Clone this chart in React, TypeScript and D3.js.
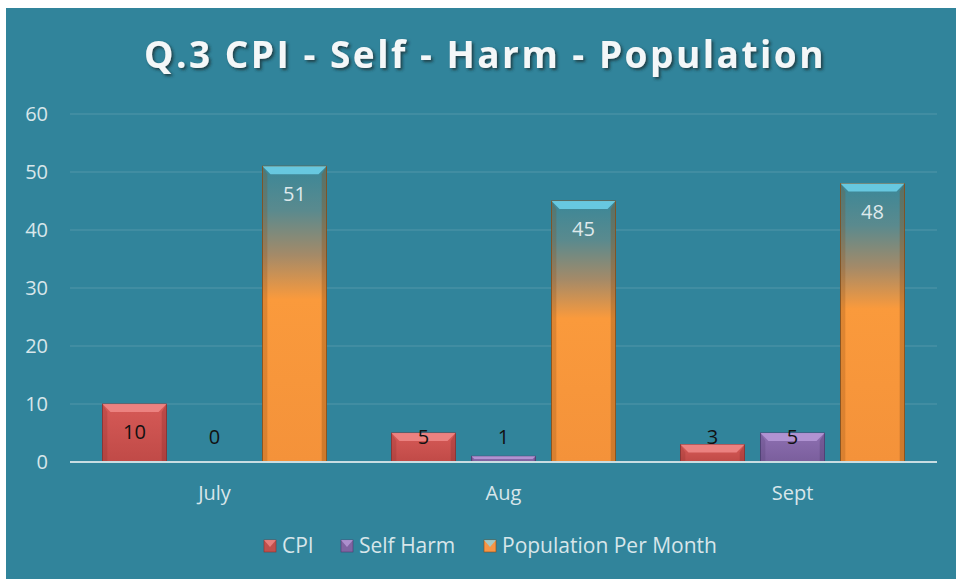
import React from 'react'
import * as d3 from 'd3'

const categories = ['July', 'Aug', 'Sept']
const seriesNames = ['CPI', 'Self Harm', 'Population Per Month']
const cpi = [10, 5, 3]
const selfHarm = [0, 1, 5]
const population = [51, 45, 48]
const yTicks = [0, 10, 20, 30, 40, 50, 60]

const W = 956
const H = 579
const font = '"Open Sans", Lato, sans-serif'

const colors: Record<string, { top: string; body: string; dark: string; mark: string }> = {
  'CPI': { top: '#f08a88', body: 'url(#gCpi)', dark: '#8c2f2d', mark: '#c0504d' },
  'Self Harm': { top: '#b79ad8', body: 'url(#gSh)', dark: '#4f3a6e', mark: '#8064a2' },
  'Population Per Month': { top: '#6fd3ec', body: 'url(#gPop)', dark: '#8a4c14', mark: '#f79646' },
}

const Bar = ({ x, y, w, h, name }: { x: number; y: number; w: number; h: number; name: string }) => {
  if (h <= 0) return null
  const c = colors[name]
  const b = Math.min(8, h / 2)
  return (
    <g>
      <rect x={x} y={y} width={w} height={h} fill={c.body} stroke={c.dark} strokeWidth={0.8} />
      <polygon points={`${x},${y} ${x + w},${y} ${x + w - b},${y + b} ${x + b},${y + b}`} fill={c.top} opacity={0.85} />
      <polygon points={`${x},${y} ${x + b * 0.6},${y + b} ${x + b * 0.6},${y + h} ${x},${y + h}`} fill={c.dark} opacity={0.25} />
      <polygon points={`${x + w},${y} ${x + w - b * 0.6},${y + b} ${x + w - b * 0.6},${y + h} ${x + w},${y + h}`} fill={c.dark} opacity={0.35} />
    </g>
  )
}

export default function App() {
  const x0 = d3.scaleBand<string>().domain(categories).range([70, 937])
  const x1 = d3.scaleBand<string>().domain(seriesNames).range([0, x0.bandwidth()]).paddingInner(0.2).paddingOuter(0.406)
  const y = d3.scaleLinear().domain([0, 60]).range([462, 114])
  const data = [cpi, selfHarm, population]

  return (
    <div style={{ position: 'absolute', left: 0, top: 0 }}>
      <svg width={W} height={H} style={{ display: 'block' }}>
        <defs>
          <linearGradient id="gCpi" x1="0" y1="0" x2="0" y2="1">
            <stop offset="0" stopColor="#d65a57" />
            <stop offset="1" stopColor="#c04a47" />
          </linearGradient>
          <linearGradient id="gSh" x1="0" y1="0" x2="0" y2="1">
            <stop offset="0" stopColor="#8e70b2" />
            <stop offset="1" stopColor="#7a5e9c" />
          </linearGradient>
          <linearGradient id="gPop" x1="0" y1="0" x2="0" y2="1">
            <stop offset="0" stopColor="#3a8798" />
            <stop offset="0.15" stopColor="#5a8a8e" />
            <stop offset="0.3" stopColor="#a48a68" />
            <stop offset="0.45" stopColor="#fa9a3c" />
            <stop offset="1" stopColor="#f4923a" />
          </linearGradient>
          <filter id="shadow" x="-10%" y="-30%" width="120%" height="160%">
            <feDropShadow dx="2" dy="2" stdDeviation="1.5" floodColor="#1a2e35" floodOpacity="0.8" />
          </filter>
        </defs>
        <rect x={0} y={0} width={W} height={H} fill="#ffffff" />
        <rect x={6} y={8} width={W - 6} height={H - 8} fill="#31849b" />

        <text x={485} y={68} textAnchor="middle" fontFamily={font} fontWeight={700} fontSize={37}
          letterSpacing={2.5} fill="#f4f7f8" filter="url(#shadow)">
          Q.3 CPI - Self - Harm - Population
        </text>

        {yTicks.map(t => (
          <g key={t}>
            {t > 0 && <line x1={70} x2={937} y1={y(t)} y2={y(t)} stroke="#ffffff" strokeOpacity={0.16} strokeWidth={1} />}
            <text x={48} y={y(t)} dy="0.35em" textAnchor="end" fontFamily={font} fontSize={20} fill="#d8e6ea">{t}</text>
          </g>
        ))}

        {categories.map((c, ci) => (
          <g key={c}>
            {seriesNames.map((s, si) => {
              const v = data[si][ci]
              const bx = (x0(c) ?? 0) + (x1(s) ?? 0)
              const bw = x1.bandwidth()
              return <Bar key={s} x={bx} y={y(v)} w={bw} h={y(0) - y(v)} name={s} />
            })}
            <text x={(x0(c) ?? 0) + x0.bandwidth() / 2} y={493} dy="0.35em" textAnchor="middle"
              fontFamily={font} fontSize={20} fill="#d8e6ea">{c}</text>
          </g>
        ))}

        <line x1={70} x2={937} y1={y(0)} y2={y(0)} stroke="#c9dde2" strokeWidth={2} />

        {categories.map((c, ci) => seriesNames.map((s, si) => {
          const v = data[si][ci]
          const cx = (x0(c) ?? 0) + (x1(s) ?? 0) + x1.bandwidth() / 2
          const ly = Math.min(y(v) + 28, y(0) - 25)
          return (
            <text key={c + s} x={cx} y={ly} dy="0.35em" textAnchor="middle" fontFamily={font} fontSize={20}
              fill={si === 2 ? '#dfe9ec' : '#111111'}>{v}</text>
          )
        }))}

        {(() => {
          const items = [{ s: 'CPI', x: 264 }, { s: 'Self Harm', x: 341 }, { s: 'Population Per Month', x: 484 }]
          return items.map(it => {
            const c = colors[it.s]
            return (
              <g key={it.s}>
                <rect x={it.x} y={540} width={12} height={12} fill={c.mark} stroke={c.dark} strokeWidth={0.6} />
                <polygon points={`${it.x},${540} ${it.x + 12},${540} ${it.x + 6},${547}`} fill={it.s === 'Population Per Month' ? '#8fd6e6' : c.top} opacity={0.8} />
                <text x={it.x + 18} y={546} dy="0.35em" fontFamily={font} fontSize={21} fill="#d8e6ea">{it.s}</text>
              </g>
            )
          })
        })()}
      </svg>
    </div>
  )
}
